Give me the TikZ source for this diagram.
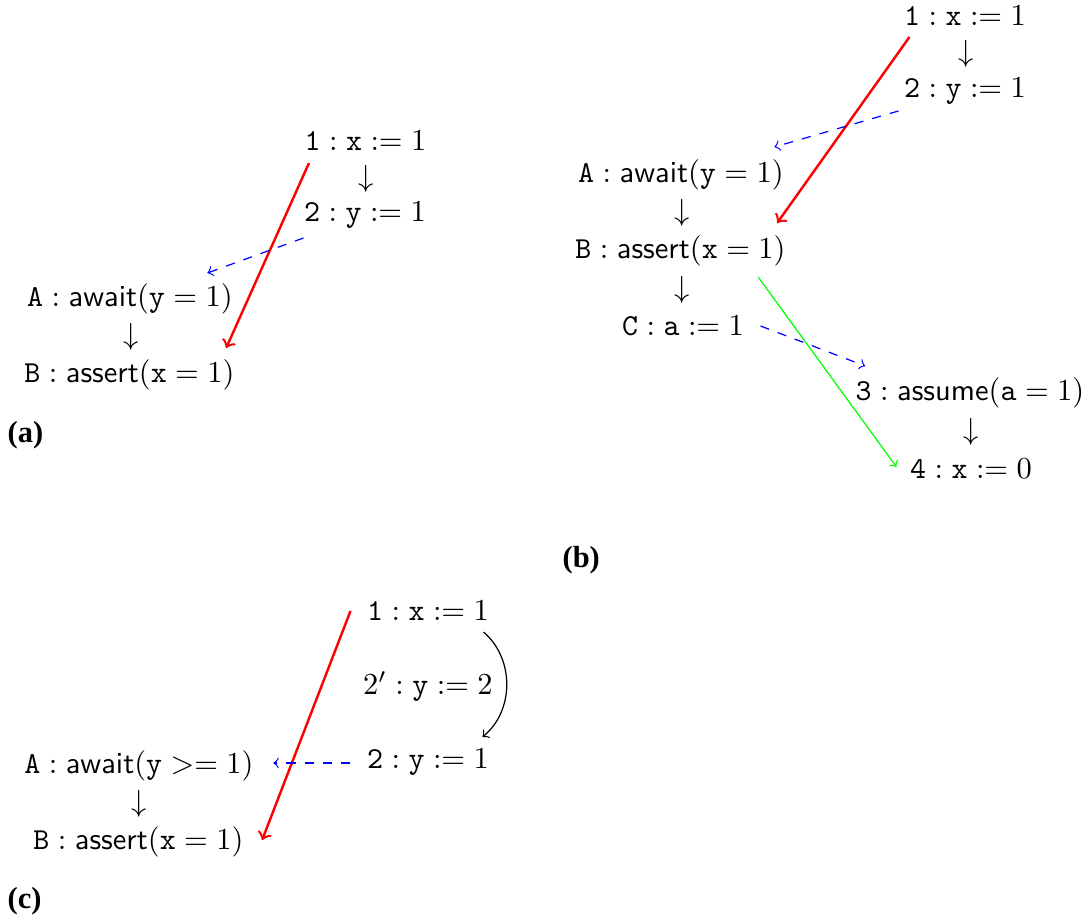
\documentclass[tikz,border=0pt]{standalone}
\usepackage{fontspec}
\newfontfamily\capfont{Liberation Serif Bold}
\usepackage{amsmath}

\begin{document}
\begin{tikzpicture}[x=0.3279pt,y=-0.3279pt,
  stmt/.style={inner sep=0pt,anchor=base},
  figlabel/.style={inner sep=0pt,anchor=base west,font=\capfont},
  race/.style={->,thick,red},
  sync/.style={->,dashed,blue},
  undo/.style={->,green}]
  \useasboundingbox (0,0) rectangle (1090,918);

  % (a)
  \node[stmt] (a1) at (365.5,151) {$\texttt{1}:\texttt{x}:=1$};
  \node[stmt] (a1d) at (366,186.5) {$\downarrow$};
  \node[stmt] (a2) at (365,222) {$\texttt{2}:\texttt{y}:=1$};
  \node[stmt] (aA) at (130,307) {$\texttt{A}:\mathsf{await}(\texttt{y}=1)$};
  \node[stmt] (aAd) at (131,345) {$\downarrow$};
  \node[stmt] (aB) at (129.5,383) {$\texttt{B}:\mathsf{assert}(\texttt{x}=1)$};
  \node[figlabel] (la) at (7,443) {(a)};
  \draw[race] ([shift={(5,12)}]a1.base west) -- ([shift={(-9,-35)}]aB.base east);
  \draw[sync] ([shift={(0,16)}]a2.base west) -- ([shift={(-26,-34)}]aA.base east);

  % (b)
  \node[stmt] (b1) at (965,26) {$\texttt{1}:\texttt{x}:=1$};
  \node[stmt] (b1d) at (966,62) {$\downarrow$};
  \node[stmt] (b2) at (965,98) {$\texttt{2}:\texttt{y}:=1$};
  \node[stmt] (bA) at (681,183) {$\texttt{A}:\mathsf{await}(\texttt{y}=1)$};
  \node[stmt] (bAd) at (682,221) {$\downarrow$};
  \node[stmt] (bB) at (680.5,259) {$\texttt{B}:\mathsf{assert}(\texttt{x}=1)$};
  \node[stmt] (bBd) at (682,297.5) {$\downarrow$};
  \node[stmt] (bC) at (683,336) {$\texttt{C}:\texttt{a}:=1$};
  \node[stmt] (b3) at (970,401) {$\texttt{3}:\mathsf{assume}(\texttt{a}=1)$};
  \node[stmt] (b3d) at (971,440) {$\downarrow$};
  \node[stmt] (b4) at (971,479) {$\texttt{4}:\texttt{x}:=0$};
  \node[figlabel] (lb) at (562,568) {(b)};
  \draw[race] ([shift={(6,11)}]b1.base west) -- ([shift={(-9,-36)}]bB.base east);
  \draw[sync] ([shift={(-5,13)}]b2.base west) -- ([shift={(-10,-36)}]bA.base east);
  \draw[undo] ([shift={(-28,18)}]bB.base east) -- ([shift={(-13,-12)}]b4.base west);
  \draw[sync] ([shift={(16,-10)}]bC.base east) -- ([shift={(10,-35)}]b3.base west);

  % (c)
  \node[stmt] (c1) at (428,621) {$\texttt{1}:\texttt{x}:=1$};
  \node[stmt] (c2p) at (428,695) {$2':\texttt{y}:=2$};
  \node[stmt] (c2) at (428,769) {$\texttt{2}:\texttt{y}:=1$};
  \node[stmt] (cA) at (139,773) {$\texttt{A}:\mathsf{await}(\texttt{y}>=1)$};
  \node[stmt] (cAd) at (139,811) {$\downarrow$};
  \node[stmt] (cB) at (138.5,849) {$\texttt{B}:\mathsf{assert}(\texttt{x}=1)$};
  \node[figlabel] (lc) at (7,908) {(c)};
  \draw[race] ([shift={(-16,-10)}]c1.base west) -- ([shift={(18,-9)}]cB.base east);
  \draw[sync] ([shift={(-16,-6)}]c2.base west) -- ([shift={(19,-10)}]cA.base east);
  \draw[->] ([shift={(-6,11)}]c1.base east) to[bend left=50] ([shift={(-7,-32)}]c2.base east);
\end{tikzpicture}
\end{document}
